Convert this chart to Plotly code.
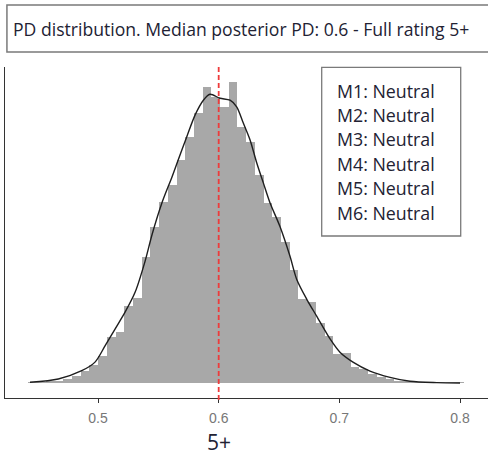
import numpy as np
import plotly.graph_objects as go

# ---------------- data ----------------
TITLE = "PD distribution. Median posterior PD: 0.6 - Full rating 5+"
X_LABEL = "5+"
MEDIAN_PD = 0.6

BIN_START = 0.4423
BIN_WIDTH = 0.00722
hist_density = [0.02, 0.02, 0.03, 0.06, 0.11, 0.21, 0.36, 0.54, 0.81, 1.39,
                1.54, 2.32, 2.56, 3.80, 4.73, 5.48, 5.99, 6.75, 7.44, 8.16,
                8.95, 8.64, 8.34, 9.10, 7.74, 7.29, 6.30, 5.45, 5.03, 4.25,
                3.43, 2.53, 2.44, 1.81, 1.42, 0.87, 0.90, 0.48, 0.42, 0.27,
                0.18, 0.11, 0.06, 0.03, 0.02, 0.02, 0.01, 0.01, 0.01, 0.01]

curve_x = [0.4436, 0.4671, 0.4865, 0.4975, 0.5058, 0.5141, 0.5224, 0.5307,
           0.5389, 0.5448, 0.5530, 0.5613, 0.5665, 0.5735, 0.5804, 0.5873,
           0.5928, 0.6011, 0.6094, 0.6149, 0.6204, 0.6260, 0.6315, 0.6370,
           0.6425, 0.6508, 0.6591, 0.6647, 0.6730, 0.6812, 0.6923, 0.7005,
           0.7113, 0.7254, 0.7420, 0.7586, 0.7807, 0.8000]
curve_y = [0.02, 0.12, 0.37, 0.63, 1.12, 1.63, 2.14, 2.74,
           3.67, 4.49, 5.45, 6.23, 6.75, 7.44, 8.10, 8.55,
           8.73, 8.61, 8.55, 8.35, 7.86, 7.35, 6.66, 6.05,
           5.45, 4.73, 3.83, 3.13, 2.53, 2.02, 1.33, 0.93,
           0.63, 0.36, 0.17, 0.05, 0.01, 0.00]

tick_vals = [0.5, 0.6, 0.7, 0.8]
tick_text = ["0.5", "0.6", "0.7", "0.8"]

models = ["M1", "M2", "M3", "M4", "M5", "M6"]
model_status = ["Neutral", "Neutral", "Neutral", "Neutral", "Neutral", "Neutral"]

# ---------------- figure ----------------
centers = BIN_START + BIN_WIDTH * (np.arange(len(hist_density)) + 0.5)

fig = go.Figure()
fig.add_trace(go.Bar(x=centers, y=hist_density, width=BIN_WIDTH,
                     marker=dict(color="#a8a8a8", line=dict(width=0)),
                     showlegend=False, hoverinfo="skip"))
fig.add_trace(go.Scatter(x=curve_x, y=curve_y, mode="lines",
                         line=dict(color="#1e1e1e", width=1.4, shape="spline", smoothing=0.8),
                         showlegend=False, hoverinfo="skip"))

fig.add_shape(type="line", xref="x", yref="paper", x0=MEDIAN_PD, x1=MEDIAN_PD,
              y0=-0.006, y1=1.0, line=dict(color="#ee3b3b", width=1.8, dash="5px,3px"))

FONT = "Open Sans"
# title box
fig.add_shape(type="rect", xref="paper", yref="paper", x0=0.004, x1=1.006,
              y0=1.045, y1=1.187, line=dict(color="#7a7a7a", width=1.5),
              fillcolor="white", layer="above")
fig.add_annotation(text=TITLE, xref="paper", yref="paper", x=0.0125, y=1.116,
                   xanchor="left", yanchor="middle", showarrow=False,
                   font=dict(family=FONT, size=17.6, color="#222233"))

# legend-like box
fig.add_shape(type="rect", xref="paper", yref="paper", x0=0.6557, x1=0.9435,
              y0=0.4894, y1=0.9991, line=dict(color="#7a7a7a", width=1.3),
              fillcolor="white", layer="above")
for i, (m, s) in enumerate(zip(models, model_status)):
    fig.add_annotation(text=f"{m}: {s}", xref="paper", yref="paper",
                       x=0.6832, y=0.9284 - i * 0.0737,
                       xanchor="left", yanchor="middle", showarrow=False,
                       font=dict(family=FONT, size=17.8, color="#222233"))

fig.add_annotation(text=X_LABEL, xref="x", yref="paper", x=MEDIAN_PD, y=-0.132,
                   xanchor="center", yanchor="middle", showarrow=False,
                   font=dict(family=FONT, size=21, color="#222233"))

fig.update_layout(
    width=488, height=455,
    margin=dict(l=5, r=0, t=67, b=57),
    paper_bgcolor="white", plot_bgcolor="white",
    bargap=0, showlegend=False,
    xaxis=dict(range=[0.4229, 0.8232], tickvals=tick_vals, ticktext=tick_text,
               showline=True, linecolor="#333333", linewidth=1.2,
               ticks="outside", ticklen=4, tickcolor="#333333", tickwidth=1,
               ticklabelstandoff=3,
               showgrid=False, zeroline=False,
               tickfont=dict(family="Liberation Sans", size=14, color="#777777")),
    yaxis=dict(range=[-0.455, 9.555], showline=True, linecolor="#333333", linewidth=1.2,
               showticklabels=False, ticks="", showgrid=False, zeroline=False),
)

fig.write_html("out.html", config={"displayModeBar": False},
               post_script="document.body.style.margin='0';document.body.style.overflow='hidden';")
